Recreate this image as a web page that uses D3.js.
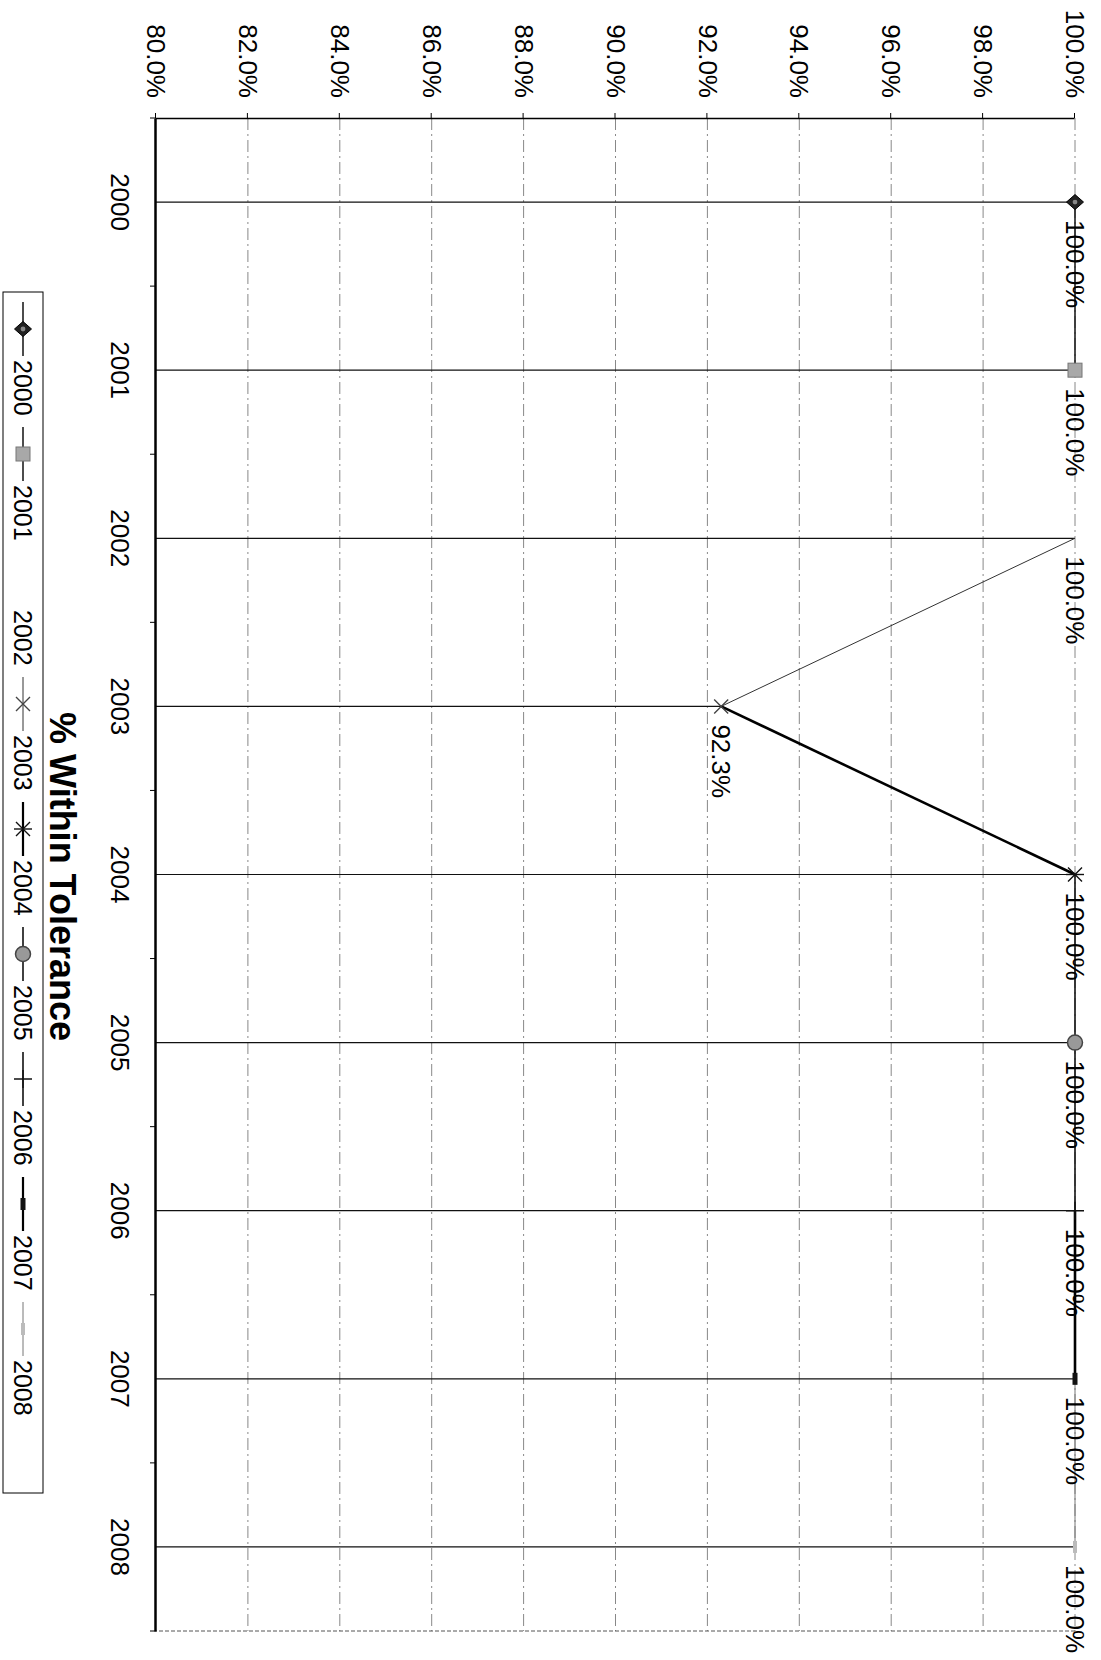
<!DOCTYPE html>
<html>
<head>
<meta charset="utf-8">
<script src="https://cdn.jsdelivr.net/npm/d3@7"></script>
<style>
body { margin: 0; background: #fff; }
text { font-family: "Liberation Sans", Arial, sans-serif; fill: #000; }
</style>
</head>
<body>
<div class="tolerance"></div>
<script>
(function(){
// data
var years = ["2000", "2001", "2002", "2003", "2004", "2005", "2006", "2007", "2008"];
var within = [100, 100, 100, 92.3, 100, 100, 100, 100, 100];
var pctTicks = [80, 82, 84, 86, 88, 90, 92, 94, 96, 98, 100];
var title = "% Within Tolerance";

// per-series look (marker, and the segment that runs into the point)
var markerType = ["diamond", "square", "none", "x", "asterisk", "circle", "plus", "dash", "lightdash"];
var segWidth = [1.5, 1.5, 0, 1, 2.6, 1.6, 1.6, 2.6, 1];
var segColor = ["#111", "#111", "#fff", "#333", "#000", "#111", "#111", "#000", "#777"];

// the page is printed sideways: build the chart upright, then turn it 90deg clockwise
var W = 1101, H = 1660;
var plot = {left: 118, right: 1631, top: 26, bottom: 945};

var svg = d3.select(".tolerance").append("svg")
    .attr("width", W)
    .attr("height", H);

var g = svg.append("g")
    .attr("transform", "translate(" + W + ",0) rotate(90)");

var x = d3.scaleBand().domain(years).range([plot.left, plot.right]);
var y = d3.scaleLinear().domain([80, 100]).range([plot.bottom, plot.top]);
var cx = function(d) { return x(d) + x.bandwidth() / 2; };

// gridlines
g.append("g").selectAll("line")
    .data(pctTicks.slice(1))
    .enter().append("line")
    .attr("x1", plot.left).attr("x2", plot.right)
    .attr("y1", function(d) { return y(d); })
    .attr("y2", function(d) { return y(d); })
    .style("stroke", "#888")
    .style("stroke-width", 1)
    .style("stroke-dasharray", "12,4,2,4");

// right edge of plot area
g.append("line")
    .attr("x1", plot.right).attr("x2", plot.right)
    .attr("y1", plot.top).attr("y2", plot.bottom)
    .style("stroke", "#555")
    .style("stroke-dasharray", "4,2");

// drop lines from the category axis up to each point
g.append("g").selectAll("line")
    .data(years)
    .enter().append("line")
    .attr("x1", cx).attr("x2", cx)
    .attr("y1", plot.bottom)
    .attr("y2", function(d, i) { return y(within[i]); })
    .style("stroke", "#111")
    .style("stroke-width", 1.2);

// value axis
var yAxis = g.append("g")
    .attr("transform", "translate(" + plot.left + ",0)")
    .call(d3.axisLeft(y).tickValues(pctTicks).tickSize(5).tickSizeOuter(0).tickPadding(15)
        .tickFormat(function(d) { return d.toFixed(1) + "%"; }));
yAxis.selectAll("text").style("font-size", "26px").style("font-family", "Liberation Sans, Arial, sans-serif");
yAxis.select(".domain").style("stroke-width", 1.5);

// category axis
var xAxis = g.append("g")
    .attr("transform", "translate(0," + plot.bottom + ")")
    .call(d3.axisBottom(x).tickSize(0).tickSizeOuter(0).tickPadding(27));
xAxis.selectAll("text").style("font-size", "26px").style("font-family", "Liberation Sans, Arial, sans-serif");
xAxis.select(".domain").style("stroke-width", 2.5);

// category tick marks sit between the bands
g.append("g").selectAll("line")
    .data(years.concat(["end"]))
    .enter().append("line")
    .attr("x1", function(d, i) { return i < years.length ? x(d) : plot.right; })
    .attr("x2", function(d, i) { return i < years.length ? x(d) : plot.right; })
    .attr("y1", plot.bottom).attr("y2", plot.bottom + 6)
    .style("stroke", "#000");

// series line, one segment per series
for (var i = 1; i < years.length; i++) {
  if (!segWidth[i]) continue;
  g.append("line")
      .attr("x1", cx(years[i - 1])).attr("y1", y(within[i - 1]))
      .attr("x2", cx(years[i])).attr("y2", y(within[i]))
      .style("stroke", segColor[i])
      .style("stroke-width", segWidth[i]);
}

function marker(sel, type, px, py) {
  var m = sel.append("g").attr("transform", "translate(" + px + "," + py + ")");
  if (type == "diamond") {
    m.append("path").attr("d", "M0,-8.5L7.5,0L0,8.5L-7.5,0Z").style("fill", "#222").style("stroke", "#000");
    m.append("circle").attr("r", 2.4).style("fill", "#888");
  } else if (type == "square") {
    m.append("rect").attr("x", -7).attr("y", -7).attr("width", 14).attr("height", 14)
        .style("fill", "#a8a8a8").style("stroke", "#777");
  } else if (type == "x" || type == "asterisk") {
    m.append("path").attr("d", "M-7,-7L7,7M-7,7L7,-7")
        .style("stroke", type == "x" ? "#444" : "#111").style("stroke-width", 1.4);
    if (type == "asterisk")
      m.append("path").attr("d", "M0,-9L0,9").style("stroke", "#111").style("stroke-width", 1.4);
  } else if (type == "circle") {
    m.append("circle").attr("r", 7.5).style("fill", "#999").style("stroke", "#444").style("stroke-width", 1.5);
  } else if (type == "plus") {
    m.append("path").attr("d", "M-9,0L9,0M0,-9L0,9").style("stroke", "#111").style("stroke-width", 1.4);
  } else if (type == "dash") {
    m.append("rect").attr("x", -6).attr("y", -2.5).attr("width", 12).attr("height", 5).style("fill", "#111");
  } else if (type == "lightdash") {
    m.append("rect").attr("x", -6).attr("y", -2).attr("width", 12).attr("height", 4).style("fill", "#bbb");
  }
}

years.forEach(function(d, i) {
  marker(g, markerType[i], cx(d), y(within[i]));
});

// data labels, to the right of each point
g.append("g").selectAll("text")
    .data(years)
    .enter().append("text")
    .attr("x", function(d) { return cx(d) + 18; })
    .attr("y", function(d, i) { return y(within[i]); })
    .attr("dy", "0.35em")
    .style("font-size", "26px")
    .text(function(d, i) { return within[i].toFixed(1) + "%"; });

// title under the category labels
g.append("text")
    .attr("x", (plot.left + plot.right) / 2 + 2)
    .attr("y", 1051)
    .attr("text-anchor", "middle")
    .style("font-size", "36px")
    .style("font-weight", "bold")
    .text(title);

// legend
var legend = g.append("g");
legend.append("rect")
    .attr("x", 292).attr("y", 1058)
    .attr("width", 1201).attr("height", 40)
    .style("fill", "#fff")
    .style("stroke", "#000");

var step = 125, first = 329, ly = 1078;
years.forEach(function(d, i) {
  var mx = first + i * step;
  if (segWidth[i])
    legend.append("line")
        .attr("x1", mx - 27).attr("x2", mx + 27)
        .attr("y1", ly).attr("y2", ly)
        .style("stroke", segColor[i])
        .style("stroke-width", Math.min(segWidth[i], 2.2));
  marker(legend, markerType[i], mx, ly);
  legend.append("text")
      .attr("x", mx + 31)
      .attr("y", ly)
      .attr("dy", "0.36em")
      .style("font-size", "25px")
      .text(d);
});
})();
</script>
</body>
</html>
